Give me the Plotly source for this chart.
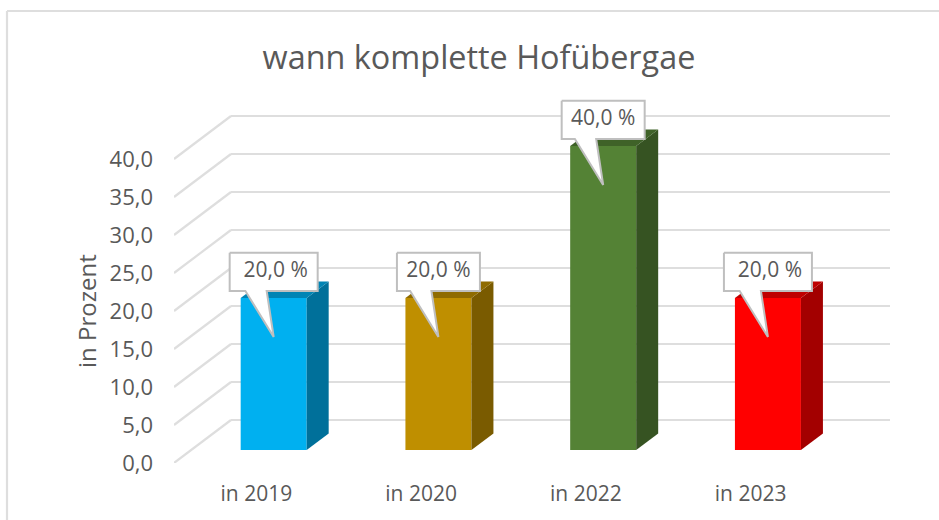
import plotly.graph_objects as go

categories = ["in 2019", "in 2020", "in 2022", "in 2023"]
values = [20.0, 20.0, 40.0, 20.0]
value_labels = ["20,0 %", "20,0 %", "40,0 %", "20,0 %"]
front_colors = ["#00B0F0", "#BF8F00", "#548235", "#FF0000"]
top_colors = ["#0084B4", "#8F6B00", "#3F6228", "#BF0000"]
side_colors = ["#00709A", "#7A5B00", "#365322", "#A30000"]
y_ticks = [0, 5, 10, 15, 20, 25, 30, 35, 40]
y_tick_labels = ["0,0", "5,0", "10,0", "15,0", "20,0", "25,0", "30,0", "35,0", "40,0"]
callout_half_left = [44, 41.5, 41.5, 44]
callout_half_right = [44, 41.5, 41.5, 44]
text_shift = [2, 0, 0, 2]

W, H = 939, 520
L, R, T, B = 174, 890, 90, 463
PX_Y = 7.6
PX_X = 164.75
FONT = "Open Sans"
TXT = "#595959"
GRID = "#DEDEDE"

dx = lambda p: p / PX_X
dy = lambda p: p / PX_Y
x0 = -0.5
x1 = x0 + (R - L) / PX_X
ytop = (B - T) / PX_Y
wall_x, wall_y = dx(57), dy(43)
bar_dx, bar_base = dx(17.3), dy(13)
bar_w = dx(66)
side_x, side_y = dx(22), dy(16.5)


def px(p):
    return (p - L) / (R - L)


def py(p):
    return (B - p) / (B - T)


shapes = []
for v in y_ticks:
    for a, b, c, d in [(x0, v, x0 + wall_x, v + wall_y), (x0 + wall_x, v + wall_y, x1, v + wall_y)]:
        shapes.append(dict(type="line", xref="x", yref="y", x0=a, y0=b, x1=c, y1=d,
                           line=dict(color=GRID, width=2.2), layer="below"))
shapes.append(dict(type="line", xref="paper", yref="paper", x0=px(7), x1=px(7), y0=py(11), y1=py(520),
                   line=dict(color=GRID, width=2.2)))
shapes.append(dict(type="line", xref="paper", yref="paper", x0=px(7), x1=px(939), y0=py(11), y1=py(11),
                   line=dict(color=GRID, width=2.2)))

fig = go.Figure()
xs = [i + bar_dx for i in range(len(values))]
fig.add_trace(go.Bar(x=xs, y=values, base=bar_base, width=bar_w, marker=dict(color=front_colors, line=dict(width=0)),
                     showlegend=False, hoverinfo="skip"))


def poly(px_list, py_list, fill, line=None, lw=0):
    fig.add_trace(go.Scatter(x=px_list, y=py_list, mode="lines", fill="toself", fillcolor=fill,
                             line=dict(color=line or fill, width=lw), showlegend=False, hoverinfo="skip",
                             cliponaxis=False))


for i, v in enumerate(values):
    xl, xr = xs[i] - bar_w / 2, xs[i] + bar_w / 2
    yb, yt = bar_base, bar_base + v
    poly([xr, xr + side_x, xr + side_x, xr, xr], [yb, yb + side_y, yt + side_y, yt, yb], side_colors[i])
    poly([xl, xl + side_x, xr + side_x, xr, xl], [yt, yt + side_y, yt + side_y, yt, yt], top_colors[i])

for i, v in enumerate(values):
    cx = xs[i]
    yt = bar_base + v
    bl, br = cx - dx(callout_half_left[i]), cx + dx(callout_half_right[i])
    btop, bbot = yt + dy(45.3), yt + dy(7)
    tipx, tipy = cx, yt - dy(39)
    wl, wr = cx - dx(28.3), cx - dx(7)
    poly([bl, br, br, wr, tipx, wl, bl, bl], [btop, btop, bbot, bbot, tipy, bbot, bbot, btop],
         "#FFFFFF", "#BFBFBF", 2)
    fig.add_trace(go.Scatter(x=[cx + dx(text_shift[i])], y=[yt + dy(26.5)], mode="text", text=[value_labels[i]],
                             textfont=dict(family=FONT, size=21, color=TXT), textposition="middle center",
                             showlegend=False, hoverinfo="skip", cliponaxis=False))

fig.update_layout(
    width=W, height=H,
    margin=dict(l=L, r=W - R, t=T, b=H - B, pad=0),
    paper_bgcolor="white", plot_bgcolor="rgba(0,0,0,0)",
    font=dict(family=FONT, color=TXT),
    title=dict(text="wann komplette Hofübergae", x=479 / W, y=1 - 58 / H, xanchor="center", yanchor="middle",
               font=dict(family=FONT, size=32.4, color=TXT)),
    shapes=shapes,
    annotations=[dict(text="in Prozent", xref="paper", yref="paper", x=px(86), y=py(311), showarrow=False,
                      textangle=-90, xanchor="center", yanchor="middle",
                      font=dict(family=FONT, size=24, color=TXT))],
    xaxis=dict(range=[x0, x1], tickvals=list(range(len(categories))), ticktext=categories, showgrid=False,
               zeroline=False, showline=False, ticks="", ticklabelstandoff=16,
               tickfont=dict(family=FONT, size=21, color=TXT)),
    yaxis=dict(range=[0, ytop], tickvals=y_ticks, ticktext=y_tick_labels, showgrid=False, zeroline=False,
               showline=False, ticks="", ticklabelstandoff=20,
               tickfont=dict(family=FONT, size=22, color=TXT)),
)
fig.write_html("out.html", config=dict(displayModeBar=False),
               post_script="document.body.style.margin='0';document.body.style.overflow='hidden';")
